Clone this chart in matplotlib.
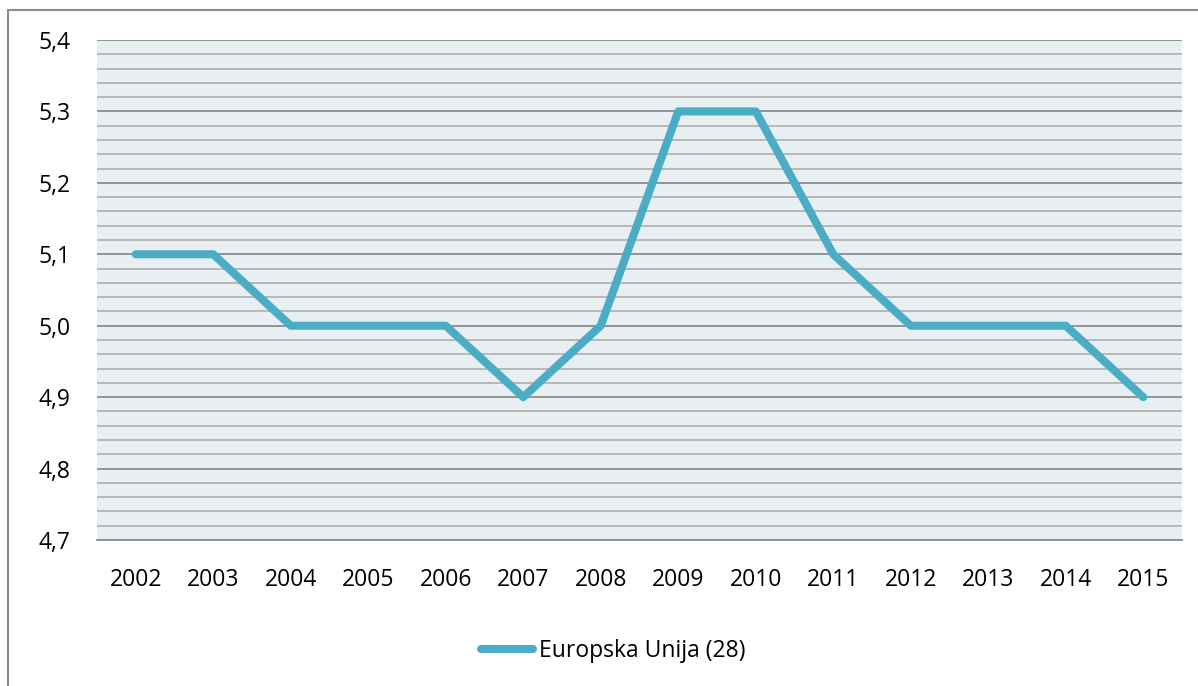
import matplotlib
matplotlib.use("Agg")
import matplotlib.pyplot as plt
from matplotlib.patches import Rectangle
import numpy as np

# podaci
years = ["2002", "2003", "2004", "2005", "2006", "2007", "2008",
         "2009", "2010", "2011", "2012", "2013", "2014", "2015"]
values = [5.1, 5.1, 5.0, 5.0, 5.0, 4.9, 5.0, 5.3, 5.3, 5.1, 5.0, 5.0, 5.0, 4.9]
series_name = "Europska Unija (28)"
y_ticks = [4.7, 4.8, 4.9, 5.0, 5.1, 5.2, 5.3, 5.4]

plt.rcParams['font.family'] = ['Open Sans', 'DejaVu Sans']

fig = plt.figure(figsize=(11.98, 6.86), dpi=100)
ax = fig.add_axes([97/1198, 1 - 540/686, (1182 - 97)/1198, 500/686])

ax.set_facecolor("#e8eff3")
x = np.arange(len(years))
ax.plot(x, values, color="#4bacc6", linewidth=5.8, solid_joinstyle="round",
        solid_capstyle="round", label=series_name, zorder=3)

ax.set_xlim(-0.5, len(years) - 0.5)
ax.set_ylim(4.7, 5.4)
ax.set_yticks(y_ticks)
ax.set_yticklabels([f"{v:.1f}".replace(".", ",") for v in y_ticks])
ax.set_yticks(np.arange(4.72, 5.4, 0.02), minor=True)
ax.set_xticks(x)
ax.set_xticklabels(years)

ax.grid(axis="y", which="major", color="#8c8c8c", linewidth=1.3, zorder=1)
ax.grid(axis="y", which="minor", color="#b4b4b4", linewidth=1.3, zorder=1)
ax.set_axisbelow(True)
for s in ["top", "right", "left"]:
    ax.spines[s].set_visible(False)
ax.spines["bottom"].set_color("#8c8c8c")
ax.spines["bottom"].set_linewidth(1.3)
ax.tick_params(axis="both", which="both", length=0, labelsize=16.5)
ax.tick_params(axis="x", pad=20)
ax.tick_params(axis="y", pad=19)

leg = fig.legend(loc="center", bbox_to_anchor=(613/1198, 1 - 651/686), frameon=False,
                 fontsize=16.5, handlelength=2.3, handletextpad=0.25)

fig.patches.append(Rectangle((8/1198, -0.01), 1.02, 1 - 10/686 + 0.01,
                             transform=fig.transFigure, fill=False,
                             edgecolor="#8c8c8c", linewidth=1.5))

fig.savefig("out.png", dpi=100)
